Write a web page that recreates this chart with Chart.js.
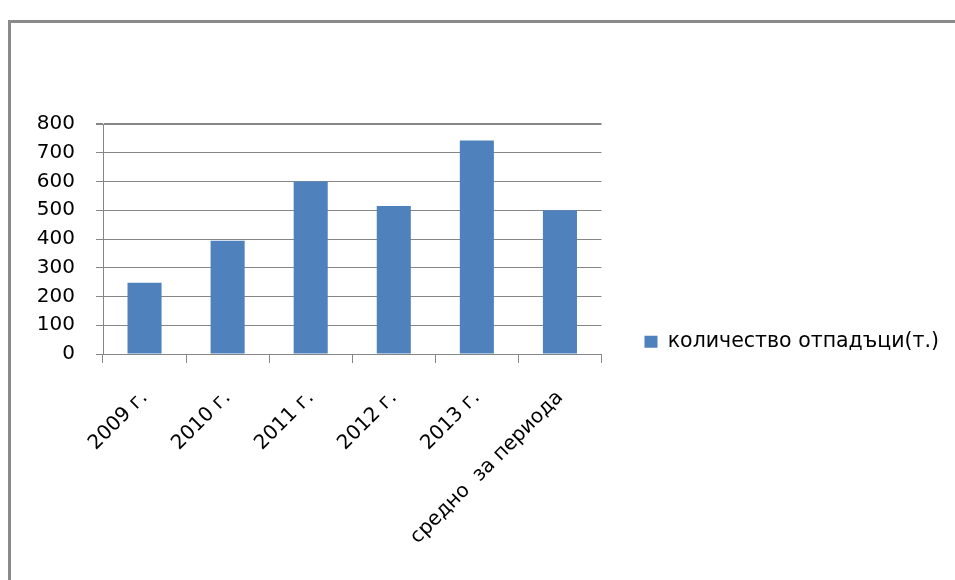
<!DOCTYPE html>
<html>
<head>
<meta charset="utf-8">
<script src="https://cdn.jsdelivr.net/npm/chart.js@4/dist/chart.umd.min.js"></script>
<style>
  body { margin: 0; background: #fff; overflow: hidden; }
  #frame { position: absolute; left: 8px; top: 20px; width: 2000px; height: 2000px;
           border-left: 3px solid #8a8a8a; border-top: 3px solid #8a8a8a; }
  #chart { position: absolute; left: 0; top: 0; }
</style>
</head>
<body>
<div id="frame"></div>
<canvas id="chart" width="955" height="580"></canvas>
<script>
// data
const categories = ['2009 г.', '2010 г.', '2011 г.', '2012 г.', '2013 г.', 'средно  за периода']
const seriesName = 'количество отпадъци(т.)'
const amounts = [248, 394, 600, 515, 743, 500]
const yMin = 0
const yMax = 800
const yStep = 100

const gridGray = '#868686'
const barBlue = '#4f81bd'
const font = { family: 'DejaVu Sans', size: 20 }

new Chart(document.getElementById('chart'), {
  type: 'bar',
  data: {
    labels: categories,
    datasets: [{
      label: seriesName,
      data: amounts,
      backgroundColor: barBlue,
      borderWidth: 0,
      barPercentage: 0.41,
      categoryPercentage: 1
    }]
  },
  options: {
    responsive: false,
    animation: false,
    layout: { padding: { top: 124, left: 0, bottom: 0, right: 6 } },
    plugins: {
      tooltip: { enabled: false },
      legend: {
        position: 'right',
        align: 'end',
        fullSize: false,
        maxWidth: 600,
        labels: { color: '#000', font: { family: 'DejaVu Sans', size: 20.5 }, boxWidth: 13, boxHeight: 12, padding: 2 }
      }
    },
    scales: {
      x: {
        grid: { display: true, drawOnChartArea: false, drawTicks: true, tickLength: 9, color: gridGray, offset: true },
        border: { display: true, color: gridGray, width: 1 },
        ticks: { color: '#000', font: font, minRotation: 45, maxRotation: 45, autoSkip: false, padding: 23 },
        afterFit: s => { s.height = 226 }
      },
      y: {
        min: yMin,
        max: yMax,
        grid: {
          color: gridGray,
          lineWidth: c => c.tick && c.tick.value === yMax ? 2 : 1,
          tickLength: 7
        },
        border: { display: true, color: gridGray, width: 1 },
        ticks: { stepSize: yStep, color: '#000', font: font, padding: 21 },
        afterFit: s => { s.width = 103 }
      },
      // empty axis, only keeps the gap between the plot and the legend
      gap: {
        type: 'linear',
        position: 'right',
        grid: { display: false },
        border: { display: false },
        ticks: { display: false },
        afterFit: s => { s.width = 41 }
      }
    }
  }
})
</script>
</body>
</html>
